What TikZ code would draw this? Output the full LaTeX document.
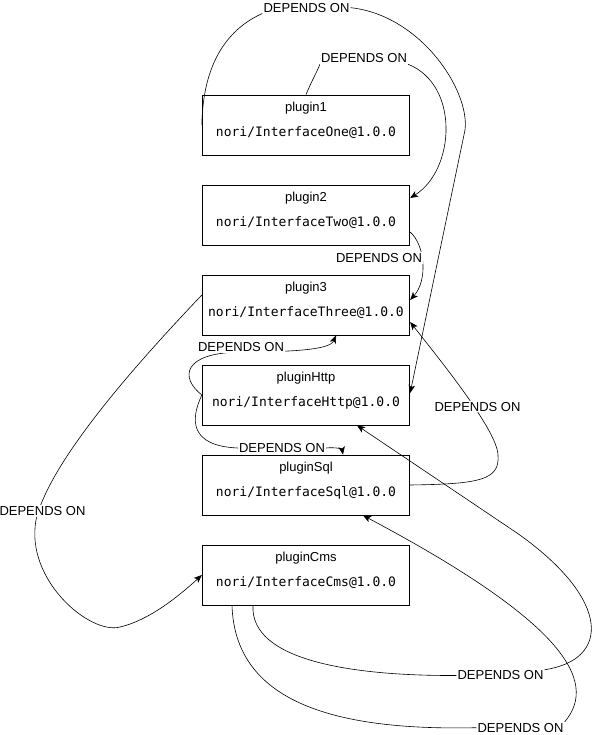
\documentclass[tikz,border=0pt]{standalone}
\usepackage{fontspec}
\setmainfont{Liberation Sans}
\newfontfamily\codefont{DejaVu Sans Mono}
\usetikzlibrary{arrows.meta}
\tikzset{
	pbox/.style={draw, line width=0.8pt, minimum width=207.5pt, minimum height=60pt, inner sep=0pt},
	ptitle/.style={anchor=base, inner sep=0pt, font=\fontsize{13}{15}\selectfont},
	pcode/.style={anchor=base, inner sep=0pt, font=\codefont\fontsize{13}{15}\selectfont},
	dep/.style={fill=white, inner sep=1pt, font=\fontsize{13}{15}\selectfont},
	link/.style={line width=0.6pt}
}
\begin{document}
\begin{tikzpicture}[x=1pt, y=-1pt, >={Stealth[length=8pt, width=6.5pt, inset=2pt]}]
	\useasboundingbox (0,0) rectangle (596,735);
	\node[pbox] (p1) at (306,125) {};
	\node[ptitle] (t1) at ([yshift=-17pt]p1.north) {plugin1};
	\node[pcode] (c1) at ([yshift=-41.5pt]p1.north) {nori/InterfaceOne@1.0.0};
	\node[pbox] (p2) at (306,215) {};
	\node[ptitle] (t2) at ([yshift=-17pt]p2.north) {plugin2};
	\node[pcode] (c2) at ([yshift=-41.5pt]p2.north) {nori/InterfaceTwo@1.0.0};
	\node[pbox] (p3) at (306,305) {};
	\node[ptitle] (t3) at ([yshift=-17pt]p3.north) {plugin3};
	\node[pcode] (c3) at ([yshift=-41.5pt]p3.north) {nori/InterfaceThree@1.0.0};
	\node[pbox] (pH) at (306,395) {};
	\node[ptitle] (tH) at ([yshift=-17pt]pH.north) {pluginHttp};
	\node[pcode] (cH) at ([yshift=-41.5pt]pH.north) {nori/InterfaceHttp@1.0.0};
	\node[pbox] (p5) at (306,485) {};
	\node[ptitle] (t5) at ([yshift=-17pt]p5.north) {pluginSql};
	\node[pcode] (c5) at ([yshift=-41.5pt]p5.north) {nori/InterfaceSql@1.0.0};
	\node[pbox] (p6) at (306,575) {};
	\node[ptitle] (t6) at ([yshift=-17pt]p6.north) {pluginCms};
	\node[pcode] (c6) at ([yshift=-41.5pt]p6.north) {nori/InterfaceCms@1.0.0};

	\draw[link, ->] ([yshift=-17pt]p2.east) .. controls (425,245) and (428,280) .. ([yshift=5pt]p3.east);
	\draw[link, ->] ([yshift=10pt]p3.west) .. controls (140,360) and (50,460) .. (36,520) .. controls (25,580) and (90,635) .. (120,627) .. controls (150,620) and (180,595) .. (p6.west);
	\draw[link, ->] (p5.east) .. controls (480,484) and (500,480) .. (498,455) .. controls (497,430) and (440,360) .. ([yshift=-17pt]p3.east);
	\draw[link, ->] (pH.west) .. controls (180,378) and (182,353) .. (240,352) .. controls (290,352) and (330,350) .. ([xshift=30pt]p3.south);

	\node[dep] (lA) at (364,58.5) {DEPENDS ON};
	\node[dep] (lB) at (306.5,7.7) {DEPENDS ON};
	\node[dep] (lC) at (379,258) {DEPENDS ON};
	\node[dep] (lD) at (42.5,511) {DEPENDS ON};
	\node[dep] (lE) at (241,347) {DEPENDS ON};
	\node[dep] (lF) at (282,448) {DEPENDS ON};
	\node[dep] (lG) at (477.5,406.7) {DEPENDS ON};
	\node[dep] (lH) at (500.5,675.5) {DEPENDS ON};
	\node[dep] (lI) at (520.5,727.7) {DEPENDS ON};

	\draw[link, ->] (p1.north) .. controls (312,80) and (318,70) .. (lA.south west) (lA.south east) .. controls (460,85) and (455,170) .. ([yshift=17pt]p2.east);
	\draw[link, ->] (p1.west) .. controls (203,60) and (230,28) .. (lB.south west) (lB.east) .. controls (420,15) and (470,90) .. (465,130) -- ([yshift=2pt]pH.east);
	\draw[link, ->] (pH.west) .. controls (190,420) and (190,446) .. (lF.west) (lF.east) .. controls (335,447) and (342,449) .. ([xshift=37pt]p5.north);
	\draw[link, ->] ([xshift=-53pt]p6.south) .. controls (250,660) and (350,676) .. (lH.west) (lH.north east) .. controls (610,660) and (612,600) .. (517,533) -- ([xshift=51pt]pH.south);
	\draw[link, ->] ([xshift=-74pt]p6.south) .. controls (235,700) and (330,731) .. (lI.west) (lI.north east) .. controls (600,680) and (560,620) .. ([xshift=57pt]p5.south);
\end{tikzpicture}
\end{document}
